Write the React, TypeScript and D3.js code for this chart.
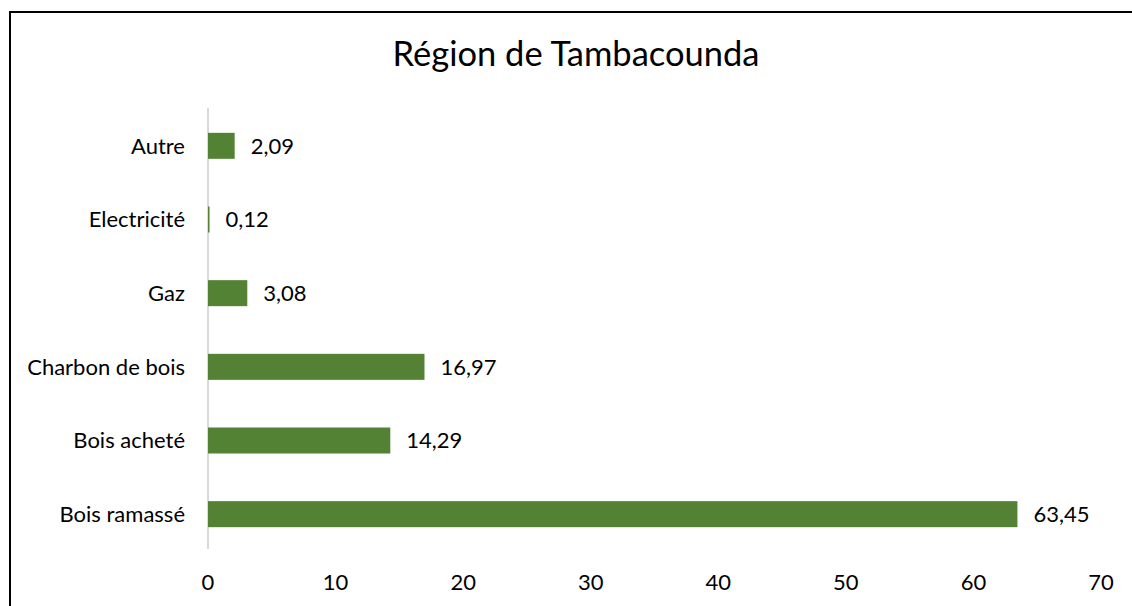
import React from 'react';
import * as d3 from 'd3';

const categories = ['Autre', 'Electricité', 'Gaz', 'Charbon de bois', 'Bois acheté', 'Bois ramassé'];
const values = [2.09, 0.12, 3.08, 16.97, 14.29, 63.45];
const ticks = [0, 10, 20, 30, 40, 50, 60, 70];

const W = 1132;
const H = 606;
const FONT = 'Lato, "Open Sans", sans-serif';

export default function App() {
  const x = d3.scaleLinear().domain([0, 70]).range([208, 1101]);
  const y = d3.scaleBand().domain(categories).range([109, 551]).paddingInner(0.647).paddingOuter(0.3235);
  const fmt = (v: number) => v.toFixed(2).replace('.', ',');

  return (
    <svg width={W} height={H} style={{ position: 'absolute', left: 0, top: 0 }}>
      <rect x={0} y={0} width={W} height={H} fill="#fff" />
      <rect x={10} y={12} width={W + 10} height={H + 10} fill="none" stroke="#000" strokeWidth={2} />
      <text x={576} y={66} textAnchor="middle" fontFamily={FONT} fontSize={34.5} fill="#000">
        Région de Tambacounda
      </text>
      {/* vertical category axis */}
      <line x1={x(0)} x2={x(0)} y1={108} y2={549} stroke="#d9d9d9" strokeWidth={2} />
      {categories.map((c, i) => {
        const cy = (y(c) as number) + y.bandwidth() / 2;
        return (
          <g key={c}>
            <text x={185} y={cy} dy="0.35em" textAnchor="end" fontFamily={FONT} fontSize={22} fill="#000">
              {c}
            </text>
            <rect x={x(0)} y={y(c)} width={x(values[i]) - x(0)} height={y.bandwidth()} fill="#548235" />
            <text x={x(values[i]) + 16} y={cy} dy="0.35em" fontFamily={FONT} fontSize={22} fill="#000">
              {fmt(values[i])}
            </text>
          </g>
        );
      })}
      {ticks.map((t) => (
        <text key={t} x={x(t)} y={590} textAnchor="middle" fontFamily={FONT} fontSize={22} fill="#000">
          {t}
        </text>
      ))}
    </svg>
  );
}
